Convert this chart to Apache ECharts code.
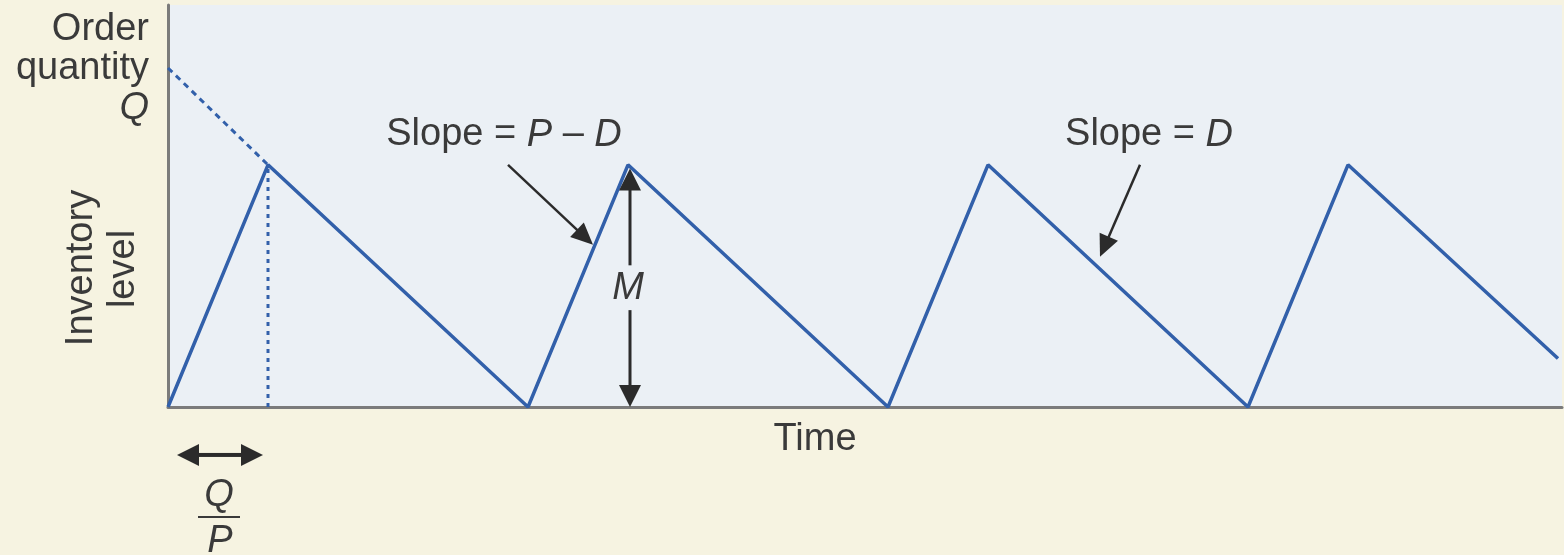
<!DOCTYPE html>
<html>
<head>
<meta charset="utf-8">
<script src="https://cdn.jsdelivr.net/npm/echarts@6/dist/echarts.min.js"></script>
<style>
  html, body { margin: 0; padding: 0; background: #f6f3e1; }
  #chart { width: 1564px; height: 555px; }
</style>
</head>
<body>
<div id="chart"></div>
<script>
// Inventory level over time for a production run (saw-tooth profile)
const timePts  = [0, 1, 3.6, 4.6, 7.2, 8.2, 10.8, 11.8, 13.9];
const levelPts = [0, 1, 0,   1,   0,   1,   0,    1,    0.2];
const orderQty = 1.4;   // Q
const peakM = 1;        // maximum inventory M
const runTime = 1;      // Q / P
const xMax = 13.94;
const yMax = 1.66;

const FONT = '"Liberation Sans", Arial, sans-serif';
const FS = 38;
const TXT = '#3a3a3a';
const ARROW = '#2b2b2b';
const BLUE = '#3260aa';

const chart = echarts.init(document.getElementById('chart'), null, { renderer: 'canvas' });

const profile = timePts.map((t, i) => [t, levelPts[i]]);
const orderLine = [[0, orderQty], [runTime, peakM]];
const runLine = [[runTime, 0], [runTime, peakM]];

chart.setOption({
  backgroundColor: '#f6f3e1',
  animation: false,
  grid: { left: 168, right: 2, top: 5, bottom: 148, show: true, backgroundColor: '#ebf0f5', borderWidth: 0 },
  xAxis: {
    type: 'value', min: 0, max: xMax,
    axisLine: { show: true, onZero: false, lineStyle: { color: '#7b7b7b', width: 3 } },
    axisTick: { show: false }, axisLabel: { show: false }, splitLine: { show: false }
  },
  yAxis: {
    type: 'value', min: 0, max: yMax,
    axisLine: { show: true, onZero: false, lineStyle: { color: '#7b7b7b', width: 3 } },
    axisTick: { show: false }, axisLabel: { show: false }, splitLine: { show: false }
  },
  series: [
    { type: 'line', data: profile, symbol: 'none', lineStyle: { color: BLUE, width: 3.5 }, z: 3 },
    { type: 'line', data: orderLine, symbol: 'none', lineStyle: { color: BLUE, width: 3, type: [6, 5] }, z: 2 },
    { type: 'line', data: runLine, symbol: 'none', lineStyle: { color: BLUE, width: 3, type: [4, 5] }, z: 2 }
  ]
});

const px = (x, y) => chart.convertToPixel({ gridIndex: 0 }, [x, y]);

// Straight arrow ending in a filled triangular head at p1
function arrow(p0, p1, lw, headLen, headHalf) {
  const dx = p1[0] - p0[0], dy = p1[1] - p0[1];
  const L = Math.hypot(dx, dy), ux = dx / L, uy = dy / L;
  const bx = p1[0] - ux * headLen, by = p1[1] - uy * headLen;
  const nx = -uy, ny = ux;
  return [
    { type: 'line', shape: { x1: p0[0], y1: p0[1], x2: bx + ux * 2, y2: by + uy * 2 },
      style: { stroke: ARROW, lineWidth: lw }, z: 10 },
    { type: 'polygon', shape: { points: [[p1[0], p1[1]], [bx + nx * headHalf, by + ny * headHalf], [bx - nx * headHalf, by - ny * headHalf]] },
      style: { fill: ARROW }, z: 10 }
  ];
}

function label(text, x, y, opts) {
  return {
    type: 'text', x: x, y: y, z: 11,
    style: Object.assign({ text: text, font: FS + 'px ' + FONT, fill: TXT, align: 'center', verticalAlign: 'middle' }, opts || {})
  };
}

const rich = { i: { fontStyle: 'italic', fontSize: FS, fontFamily: FONT, fill: TXT } };
const italic = 'italic ' + FS + 'px ' + FONT;

const g = [];

// slope annotations
g.push(...arrow(px(3.40, 1.0), px(4.25, 0.67), 2.5, 22, 10));
g.push(...arrow(px(9.72, 1.0), px(9.32, 0.62), 2.5, 22, 10));

// M: double arrow from baseline to peak with a gap for its label
const mTop = px(4.62, 0.985), mUpEnd = px(4.62, 0.585);
const mLowStart = px(4.62, 0.40), mBot = px(4.62, 0.0);
g.push(...arrow(mUpEnd, mTop, 3, 22, 11));
g.push(...arrow(mLowStart, mBot, 3, 22, 11));

// Q/P double arrow under the time axis
const qpL = px(0.09, -0.198), qpR = px(0.95, -0.198);
const qpMid = [(qpL[0] + qpR[0]) / 2, qpL[1]];
g.push(...arrow(qpMid, qpL, 4, 22, 11));
g.push(...arrow(qpMid, qpR, 4, 22, 11));

// text
g.push(label('Order', 149, 30, { align: 'right' }));
g.push(label('quantity', 149, 69, { align: 'right' }));
g.push(label('Q', 149, 108, { align: 'right', font: italic }));
g.push({ type: 'text', x: 82, y: 268, rotation: Math.PI / 2, z: 11,
  style: { text: 'Inventory', font: FS + 'px ' + FONT, fill: TXT, align: 'center', verticalAlign: 'middle' } });
g.push({ type: 'text', x: 124, y: 269, rotation: Math.PI / 2, z: 11,
  style: { text: 'level', font: FS + 'px ' + FONT, fill: TXT, align: 'center', verticalAlign: 'middle' } });
g.push(label('Slope = {i|P} \u2013 {i|D}', 504, 135, { rich: rich }));
g.push(label('Slope = {i|D}', 1149, 135, { rich: rich }));
g.push(label('M', 628, 288, { font: italic }));
g.push(label('Time', 815, 440));
g.push(label('Q', 219, 495, { font: italic }));
g.push({ type: 'line', shape: { x1: 198, y1: 517, x2: 240, y2: 517 }, style: { stroke: TXT, lineWidth: 2 }, z: 11 });
g.push(label('P', 220, 541, { font: italic }));

chart.setOption({ graphic: g });
</script>
</body>
</html>
